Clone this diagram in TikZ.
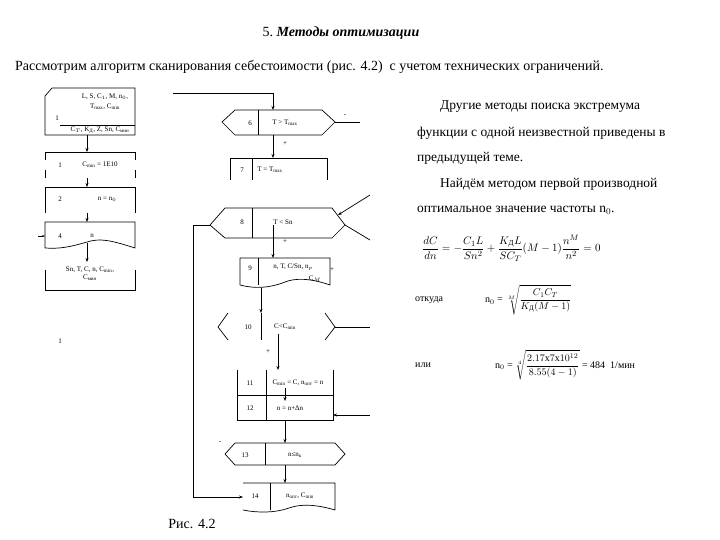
\documentclass[tikz,border=0pt]{standalone}
\usepackage{amsmath}
\usepackage{fontspec}
\setmainfont{Liberation Serif}
\usetikzlibrary{arrows.meta}
\begin{document}
\begin{tikzpicture}[x=1pt,y=-1pt,
  ln/.style={line width=0.7pt},
  arr/.style={ln,-{Stealth[length=4pt,width=3pt]}},
  sm/.style={font=\fontsize{7}{8}\selectfont,inner sep=0pt},
  txt/.style={font=\fontsize{14}{16}\selectfont,inner sep=0pt,anchor=west},
  jt/.style={font=\fontsize{13.5}{16}\selectfont,inner sep=0pt,anchor=west,text width=283pt,align=justify}]
\useasboundingbox (0,0) rectangle (720,540);
\node[font=\fontsize{14}{16}\selectfont] (title) at (341,33) {5.\ \textbf{\textit{Методы оптимизации}}};
\node[txt] (intro) at (15,67) {Рассмотрим алгоритм сканирования себестоимости (рис. 4.2) \ с учетом технических ограничений.};
\node[txt,font=\fontsize{13.5}{16}\selectfont] (r1) at (440,107) {Другие методы поиска экстремума};
\node[jt] (r2) at (417,133) {функции с одной неизвестной приведены в};
\node[txt,font=\fontsize{13.5}{16}\selectfont] (r3) at (417,158) {предыдущей теме.};
\node[txt,font=\fontsize{13.5}{16}\selectfont] (r4) at (440,184) {Найдём методом первой производной};
\node[txt,font=\fontsize{13.5}{16}\selectfont] (r5) at (417,210) {оптимальное значение частоты n$_0$.};
\node[txt,font=\fontsize{11}{13}\selectfont] (eq) at (422,248) {$\dfrac{dC}{dn}=-\dfrac{C_1L}{Sn^2}+\dfrac{K_{\text{Д}}L}{SC_T}(M-1)\dfrac{n^M}{n^2}=0$};
\node[txt,font=\fontsize{10}{12}\selectfont] (otk) at (415,300) {откуда};
\node[txt,font=\fontsize{10}{12}\selectfont] (f1) at (485,300) {n$_0$ = $\sqrt[M]{\dfrac{C_1C_T}{K_{\text{Д}}(M-1)}}$};
\node[txt,font=\fontsize{10}{12}\selectfont] (ili) at (415,365) {или};
\node[txt,font=\fontsize{10}{12}\selectfont] (f2) at (495,365) {n$_0$ = $\sqrt[4]{\dfrac{2.17\text{x}7\text{x}10^{12}}{8.55(4-1)}}$ = 484 \ 1/мин};
% left column
\draw[ln] (52,88) -- (135,88) -- (135,135) -- (45,135) -- (45,96) -- cycle;
\draw[ln] (60,125) -- (135,125);
\node[sm] (b1a) at (105,97) {L, S, C$_1$, M, n$_0$,};
\node[sm] (b1b) at (105,107) {T$_{\max}$, C$_{\min}$};
\node[sm] (b1n) at (57,118) {1};
\node[sm] (b1c) at (100,130) {C$_T$, K$_{\text{Д}}$, Z, Sn, C$_{\text{мин}}$};
\draw[ln] (45,160)--(45,152)--(135,152)--(135,160); \draw[ln](45,170)--(45,178);\draw[ln](135,170)--(135,178);
\node[sm] (b2n) at (60,165) {1}; \node[sm] (b2) at (100,165) {C$_{\min}$ = 1E10};
\draw[ln] (45,213)--(45,187)--(135,187)--(135,213);
\node[sm] (b3n) at (60,199) {2}; \node[sm] (b3) at (107,199) {n = n$_0$};
\draw[ln] (45,248)--(45,222)--(135,222)--(135,248) .. controls (110,240) and (100,238) .. (87,242) .. controls (70,247) and (60,249) .. (45,248);
\node[sm] (b4n) at (60,236) {4}; \node[sm] (b4) at (92,236) {n};
\draw[ln,-{Stealth[length=3pt]}] (38,236) -- (45,236);
\draw[ln] (45,270)--(45,290)--(135,290)--(135,270);
\node[sm,align=center] (b5) at (90,274) {Sn, T, C, n, C$_{\min}$,\\ C$_{\text{мин}}$};
\draw[arr] (87,135) -- (87,152);
\draw[arr] (87,178) -- (87,187);
\draw[arr] (87,213) -- (87,222);
\draw[arr] (87,243) -- (87,262);
\node[sm] (one) at (60,341) {1};
% middle column
\draw[ln] (222,122)--(235,110)--(322,110)--(335,122)--(322,135)--(235,135)--cycle; \draw[ln] (258,110)--(258,135);
\node[sm] (n6) at (250,123) {6}; \node[sm] (b6) at (285,123) {T > T$_{\max}$};
\draw[arr] (173,93) -- (273,93) -- (273,110);
\draw[ln] (335,122) -- (360,122); \node[sm] (m6) at (345,116) {-};
\node[sm] (p6) at (285,144) {+};
\draw[arr] (273,135) -- (273,158);
\draw[ln] (230,180)--(230,158)--(327,158)--(327,180); \draw[ln] (252,158)--(252,180);
\node[sm] (n7) at (242,170) {7}; \node[sm] (b7) at (270,170) {T = T$_{\max}$};
\draw[ln] (210,225)--(225,208)--(332,208)--(345,225)--(332,238)--(225,238)--cycle; \draw[ln] (252,208)--(252,238);
\node[sm] (n8) at (242,222) {8}; \node[sm] (b8) at (283,222) {T < Sn};
\draw[arr] (370,195) -- (338,215);
\draw[ln] (345,225) -- (370,240);
\draw[arr] (210,225) -- (193,225) -- (193,497) -- (243,497);
\draw[arr] (273,225) -- (273,258); \node[sm] (p8) at (285,242) {+};
\draw[ln] (240,285)--(240,258)--(330,258)--(330,285) .. controls (310,278) and (295,278) .. (285,282) .. controls (270,288) and (255,289) .. (240,285);
\draw[ln] (258,258)--(258,285);
\node[sm] (n9) at (250,268) {9}; \node[sm] (b9) at (293,267) {n, T, C/Sn, n$_p$};
\node[sm] (b9b) at (315,279) {C$_M$}; \node[sm] (p9) at (332,270) {+};
\draw[ln] (218,327)--(228,313); \draw[ln] (218,327)--(228,340);
\draw[ln] (335,327)--(325,313); \draw[ln] (335,327)--(325,340);
\draw[ln] (261,313)--(261,340);
\node[sm] (n10) at (248,327) {10}; \node[sm] (b10) at (285,327) {C<C$_{\min}$};
\draw[arr] (261,288) -- (261,313);
\draw[ln] (335,327) -- (370,327);
\node[sm] (p10) at (268,352) {+};
\draw[arr] (278,334) -- (278,370);
\draw[ln] (237,370)--(237,420)--(333,420)--(333,370); \draw[ln] (266,370)--(266,420); \draw[ln] (237,395)--(333,395);
\node[sm] (n11) at (250,383) {11}; \node[sm] (b11) at (298,383) {C$_{\min}$ = C, n$_{\text{опт}}$ = n};
\node[sm] (n12) at (250,408) {12}; \node[sm] (b12) at (290,408) {n = n+Δn};
\draw[arr] (285,388) -- (285,401);
\draw[arr] (370,415) -- (333,415);
\draw[arr] (285,420) -- (285,443);
\draw[ln] (225,454)--(235,443)--(335,443)--(345,454)--(335,465)--(235,465)--cycle; \draw[ln] (265,443)--(265,465);
\node[sm] (n13) at (245,455) {13}; \node[sm] (b13) at (295,455) {n≤n$_\text{к}$};
\node[sm] (m13) at (220,443) {-};
\draw[arr] (285,465) -- (285,483);
\draw[ln] (243,483)--(335,483)--(335,510) .. controls (315,504) and (300,504) .. (289,508) .. controls (275,513) and (258,513) .. (243,510);
\draw[ln] (270,483)--(270,510);
\node[sm] (n14) at (255,496) {14}; \node[sm] (b14) at (300,496) {n$_{\text{опт}}$, C$_{\min}$};
\node[font=\fontsize{14}{16}\selectfont] (cap) at (192,524) {Рис. 4.2};
\end{tikzpicture}
\end{document}
